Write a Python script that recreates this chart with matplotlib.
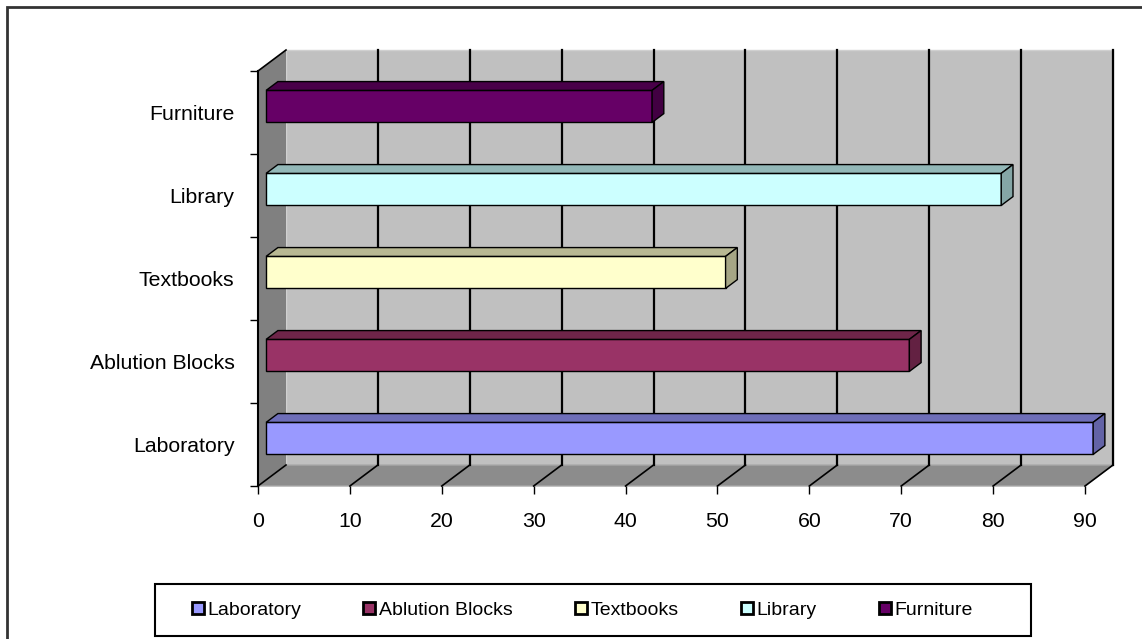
import matplotlib.pyplot as plt
from matplotlib.patches import Polygon, Rectangle
from matplotlib.lines import Line2D
from matplotlib.colors import to_rgb

plt.rcParams['font.family'] = ['Liberation Sans', 'DejaVu Sans']

# data
categories = ['Laboratory', 'Ablution Blocks', 'Textbooks', 'Library', 'Furniture']
values = [90, 70, 50, 80, 42]
colors = ['#9999FF', '#993366', '#FFFFCC', '#CCFFFF', '#660066']
x_ticks = [0, 10, 20, 30, 40, 50, 60, 70, 80, 90]

W, H = 1142, 639
fig = plt.figure(figsize=(W / 100, H / 100), dpi=100)
ax = fig.add_axes([258 / W, 1 - 486 / H, 827 / W, 415 / H])
xmax = x_ticks[-1]
ncat = len(categories)
ax.set_xlim(0, xmax)
ax.set_ylim(-0.5, ncat - 0.5)

# fake 3d depth, in data units
DX = 28 / (827 / xmax)
DY = 21 / (415 / ncat)


def pt(v, c, d):
    return (v + d * DX, c + d * DY)


def darker(col, f=0.72):
    r, g, b = to_rgb(col)
    return (r * f, g * f, b * f)


def poly(points, fc, ec='none', lw=0, z=1):
    ax.add_patch(Polygon(points, closed=True, facecolor=fc, edgecolor=ec,
                         linewidth=lw, zorder=z, clip_on=False))


lo, hi = -0.5, ncat - 0.5
# walls
poly([pt(0, lo, 1), pt(xmax, lo, 1), pt(xmax, hi, 1), pt(0, hi, 1)], '#C0C0C0', '#D0D0D0', 1)
poly([pt(0, lo, 0), pt(0, hi, 0), pt(0, hi, 1), pt(0, lo, 1)], '#808080')
poly([pt(0, lo, 0), pt(xmax, lo, 0), pt(xmax, lo, 1), pt(0, lo, 1)], '#8C8C8C', '#A8A8A8', 1)

# grid lines on back wall and floor
for t in x_ticks:
    if t > 0:
        a, b = pt(t, lo, 1), pt(t, hi, 1)
        ax.plot([a[0], b[0]], [a[1], b[1]], color='black', lw=1.6, zorder=2, clip_on=False)
    a, b = pt(t, lo, 0), pt(t, lo, 1)
    ax.plot([a[0], b[0]], [a[1], b[1]], color='black', lw=1.2, zorder=2, clip_on=False)
a, b = pt(0, hi, 0), pt(0, hi, 1)
ax.plot([a[0], b[0]], [a[1], b[1]], color='black', lw=1.2, zorder=2, clip_on=False)

# bars
d1, d2 = 0.29, 0.71
h = 0.193
for i, (v, col) in enumerate(zip(values, colors)):
    dk = darker(col)
    poly([pt(0, i - h, d1), pt(v, i - h, d1), pt(v, i + h, d1), pt(0, i + h, d1)], col, 'black', 1, 3)
    poly([pt(0, i + h, d1), pt(v, i + h, d1), pt(v, i + h, d2), pt(0, i + h, d2)], dk, 'black', 1, 3)
    poly([pt(v, i - h, d1), pt(v, i - h, d2), pt(v, i + h, d2), pt(v, i + h, d1)], darker(col, 0.65), 'black', 1, 3)

# axes
for s in ['top', 'right', 'bottom']:
    ax.spines[s].set_visible(False)
ax.spines['left'].set_linewidth(1.5)
ax.spines['left'].set_zorder(4)
ax.set_xticks(x_ticks)
ax.set_xticklabels([str(t) for t in x_ticks])
ax.set_yticks([k - 0.5 for k in range(ncat + 1)])
ax.set_yticklabels([])
ax.set_yticks(range(ncat), minor=True)
ax.set_yticklabels(categories, minor=True)
ax.tick_params(axis='x', length=6, width=1, pad=13, labelsize=15.3)
ax.tick_params(axis='y', which='major', length=6, width=1)
ax.tick_params(axis='y', which='minor', length=0, pad=17, labelsize=15.3)

# outer frame
fig.add_artist(Rectangle((7 / W, -0.1), 1.2, 1 - 7 / H + 0.1, transform=fig.transFigure,
                         fill=False, edgecolor='#333333', linewidth=2))

# legend
fig.add_artist(Rectangle((155 / W, 1 - 636 / H), 876 / W, 52 / H, transform=fig.transFigure,
                         fill=False, edgecolor='black', linewidth=1.5))
handles = [Line2D([], [], ls='none', marker='s', markersize=8, markerfacecolor=c,
                  markeredgecolor='black', markeredgewidth=2) for c in colors]
fig.legend(handles, categories, loc='center left', bbox_to_anchor=(182 / W, 1 - 610 / H),
           ncol=5, frameon=False, fontsize=14, handlelength=0.6, handletextpad=0.2,
           columnspacing=3.2, borderpad=0)

fig.savefig('out.png', dpi=100)
